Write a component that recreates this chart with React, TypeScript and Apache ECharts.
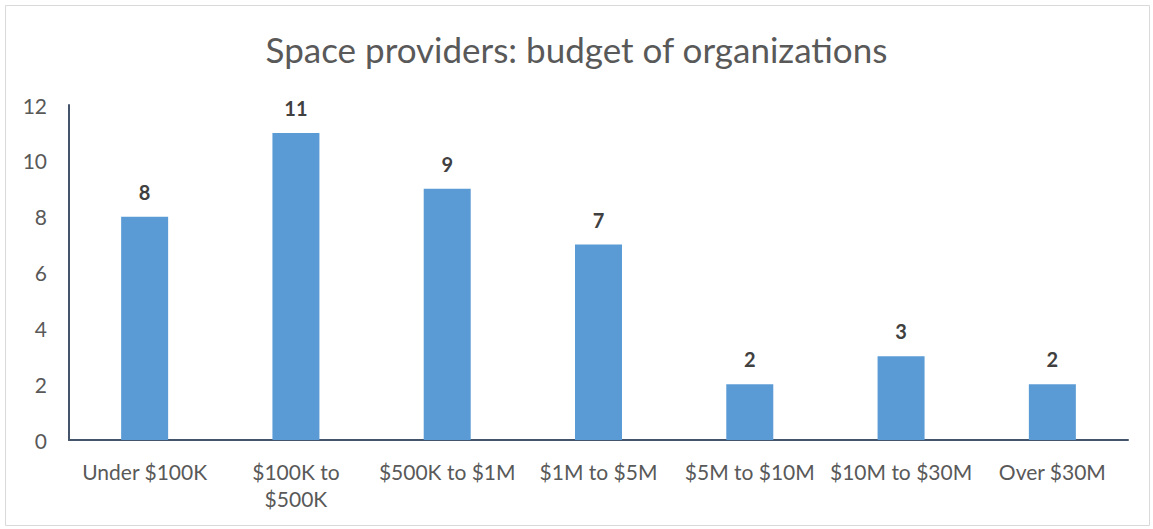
import React, { useEffect, useRef } from "react";
import * as echarts from "echarts";

const categories = ["Under $100K", "$100K to $500K", "$500K to $1M", "$1M to $5M", "$5M to $10M", "$10M to $30M", "Over $30M"];
const counts = [8, 11, 9, 7, 2, 3, 2];
const titleText = "Space providers: budget of organizations";

const FONT = "Lato, 'Open Sans', sans-serif";

export default function App() {
  const ref = useRef<HTMLDivElement>(null);
  useEffect(() => {
    document.body.style.margin = "0";
    const chart = echarts.init(ref.current!, null, { renderer: "svg" });
    chart.setOption({
      animation: false,
      backgroundColor: "#ffffff",
      textStyle: { fontFamily: FONT },
      title: {
        text: titleText,
        left: "center",
        top: 26,
        textStyle: { fontFamily: FONT, fontSize: 35, fontWeight: "normal", color: "#595959" },
      },
      graphic: [
        {
          type: "rect",
          shape: { x: 5.5, y: 5.5, width: 1144, height: 520 },
          style: { fill: "none", stroke: "#d9d9d9", lineWidth: 1 },
          silent: true,
        },
      ],
      grid: { left: 69, right: 25, top: 105, bottom: 89, containLabel: false },
      xAxis: {
        type: "category",
        data: categories,
        axisLine: { show: true, lineStyle: { color: "#44546A", width: 2 } },
        axisTick: { show: false },
        axisLabel: {
          interval: 0,
          margin: 18,
          fontFamily: FONT,
          fontSize: 21,
          color: "#595959",
          lineHeight: 27,
          formatter: (v: string) => v.replace("to $500K", "to\n$500K"),
        },
      },
      yAxis: {
        type: "value",
        min: 0,
        max: 12,
        interval: 2,
        splitLine: { show: false },
        axisLine: { show: true, lineStyle: { color: "#44546A", width: 2 } },
        axisTick: { show: false },
        axisLabel: { margin: 22, fontFamily: FONT, fontSize: 21, color: "#595959" },
      },
      series: [
        {
          type: "bar",
          data: counts,
          barWidth: 47,
          itemStyle: { color: "#5B9BD5" },
          label: {
            show: true,
            position: "top",
            distance: 15,
            fontFamily: FONT,
            fontSize: 20,
            fontWeight: "bold",
            color: "#404040",
          },
        },
      ],
    });
    return () => chart.dispose();
  }, []);
  return <div ref={ref} style={{ width: 1153, height: 529 }} />;
}
